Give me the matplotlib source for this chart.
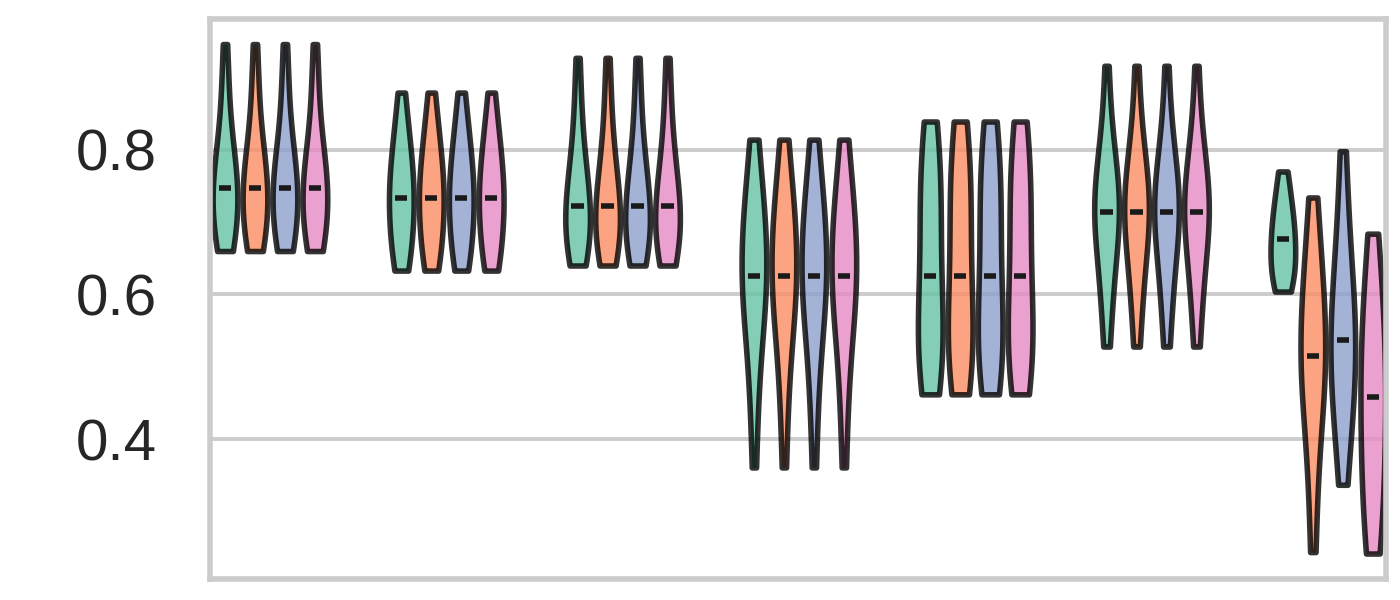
import numpy as np
import matplotlib.pyplot as plt
import seaborn as sns

sns.set_style("whitegrid")
plt.rcParams.update({
    "font.family": "Liberation Sans",
    "font.size": 21,
    "axes.edgecolor": "#cccccc",
    "axes.linewidth": 2.0,
    "grid.color": "#cccccc",
    "grid.linewidth": 1.4,
})

models = ["A", "B", "C", "D"]
n_groups = 7

# groups 1-6: the four models give the same scores
group1 = [0.660, 0.664, 0.672, 0.682, 0.692, 0.702, 0.712, 0.722, 0.731, 0.740, 0.747,
          0.754, 0.762, 0.771, 0.782, 0.795, 0.812, 0.836, 0.868, 0.905, 0.946]
group2 = [0.633, 0.638, 0.646, 0.656, 0.668, 0.680, 0.692, 0.703, 0.713, 0.722, 0.728,
          0.733, 0.742, 0.752, 0.762, 0.772, 0.782, 0.792, 0.804, 0.818, 0.836, 0.856, 0.879]
group3 = [0.640, 0.648, 0.658, 0.666, 0.673, 0.680, 0.688, 0.696, 0.704, 0.713, 0.722,
          0.730, 0.740, 0.750, 0.762, 0.776, 0.793, 0.815, 0.845, 0.885, 0.927]
group4 = [0.361, 0.430, 0.480, 0.515, 0.545, 0.570, 0.590, 0.600, 0.610, 0.618, 0.626,
          0.640, 0.655, 0.670, 0.685, 0.700, 0.715, 0.730, 0.750, 0.780, 0.814]
group5 = [0.462, 0.475, 0.490, 0.505, 0.518, 0.530, 0.542, 0.553, 0.565, 0.590, 0.626,
          0.650, 0.675, 0.700, 0.720, 0.740, 0.760, 0.780, 0.800, 0.820, 0.839]
group6 = [0.528, 0.560, 0.590, 0.615, 0.638, 0.658, 0.675, 0.690, 0.700, 0.708, 0.714,
          0.722, 0.730, 0.738, 0.747, 0.758, 0.772, 0.790, 0.815, 0.855, 0.916]

# group 7: models differ
group7_a = [0.604, 0.618, 0.630, 0.642, 0.655, 0.677, 0.685, 0.700, 0.718, 0.740, 0.770]
group7_b = [0.244, 0.330, 0.400, 0.440, 0.470, 0.490, 0.505, 0.515, 0.535, 0.560, 0.585,
            0.610, 0.640, 0.680, 0.734]
group7_c = [0.337, 0.390, 0.430, 0.455, 0.478, 0.500, 0.520, 0.537, 0.555, 0.575, 0.600,
            0.630, 0.670, 0.720, 0.798]
group7_d = [0.242, 0.268, 0.300, 0.335, 0.365, 0.392, 0.425, 0.458, 0.480, 0.505, 0.530,
            0.560, 0.595, 0.635, 0.684]

data = {}
for g, vals in enumerate([group1, group2, group3, group4, group5, group6]):
    for m in models:
        data[(g, m)] = vals
for m, vals in zip(models, [group7_a, group7_b, group7_c, group7_d]):
    data[(6, m)] = vals

palette = sns.color_palette("Set2", len(models))
offsets = [-0.255, -0.085, 0.085, 0.255]
vwidth = 0.14

fig, ax = plt.subplots(figsize=(7, 3), dpi=200)
fig.subplots_adjust(left=0.15, right=0.99, bottom=0.035, top=0.969)

for j, m in enumerate(models):
    pos = [g + offsets[j] for g in range(n_groups)]
    vals = [data[(g, m)] for g in range(n_groups)]
    parts = ax.violinplot(vals, positions=pos, widths=vwidth, bw_method=0.65,
                          showmedians=True, showextrema=False)
    for body in parts["bodies"]:
        body.set_facecolor(palette[j])
        body.set_edgecolor("black")
        body.set_linewidth(2.0)
        body.set_alpha(0.8)
    parts["cmedians"].set_color("#1a1a1a")
    parts["cmedians"].set_linewidth(2.0)

ax.set_xlim(-0.34, 6.33)
ax.set_xticks([])
ax.set_yticks([0.4, 0.6, 0.8])
ax.tick_params(axis="y", length=0, pad=19, colors="#262626")
ax.grid(axis="x", visible=False)

fig.savefig("out.png", dpi=200)
